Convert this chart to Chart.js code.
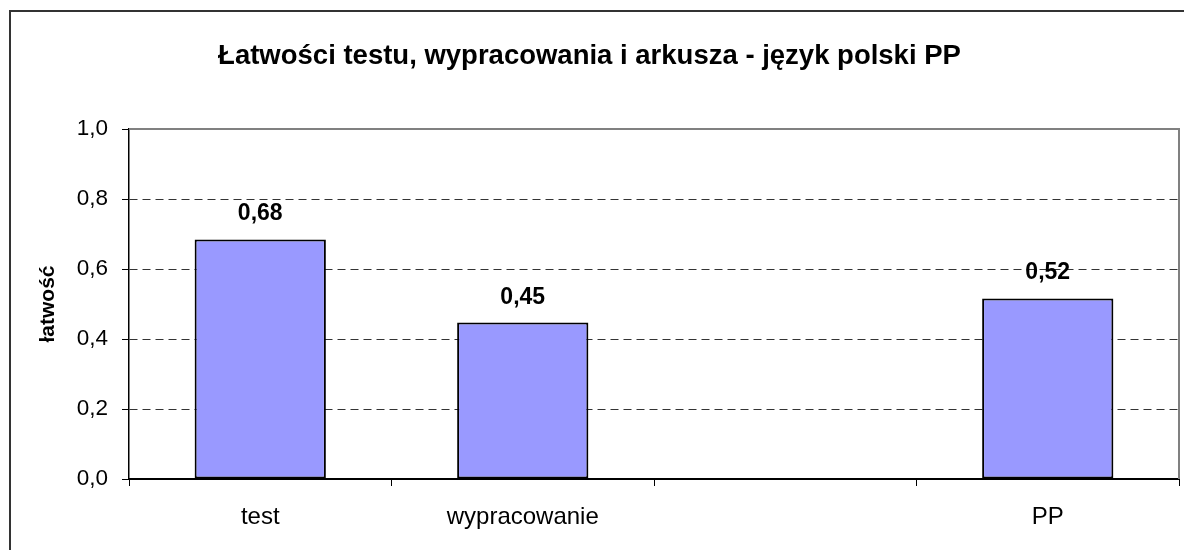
<!DOCTYPE html>
<html>
<head>
<meta charset="utf-8">
<script src="https://cdn.jsdelivr.net/npm/chart.js@4.4.1/dist/chart.umd.min.js"></script>
<style>
  html, body { margin: 0; padding: 0; background: #fff; }
  #wrap { position: relative; width: 1184px; height: 550px; }
</style>
</head>
<body>
<div id="wrap"><canvas id="c"></canvas></div>
<script>
const chartTitle = 'Łatwości testu, wypracowania i arkusza - język polski PP';
const yAxisTitle = 'łatwość';
const categories = ['test', 'wypracowanie', '', 'PP'];
const values = [0.6845, 0.447, null, 0.516];
const yTicks = [0, 0.2, 0.4, 0.6, 0.8, 1.0];

const fmt = (v, d) => v.toFixed(d).replace('.', ',');

Chart.defaults.font.family = "Arial, 'Liberation Sans', sans-serif";
Chart.defaults.color = '#000';

const framePlugin = {
  id: 'frame',
  beforeDraw(chart) {
    const ctx = chart.ctx;
    ctx.save();
    ctx.fillStyle = '#fff';
    ctx.fillRect(0, 0, chart.width, chart.height);
    ctx.strokeStyle = '#333';
    ctx.lineWidth = 2;
    ctx.beginPath();
    ctx.moveTo(10, chart.height + 2);
    ctx.lineTo(10, 11);
    ctx.lineTo(chart.width + 2, 11);
    ctx.stroke();
    ctx.restore();
  },
  afterDraw(chart) {
    const a = chart.chartArea;
    const ctx = chart.ctx;
    ctx.save();
    ctx.strokeStyle = '#808080';
    ctx.lineWidth = 2;
    ctx.beginPath();
    ctx.moveTo(a.left, a.top);
    ctx.lineTo(a.right, a.top);
    ctx.lineTo(a.right, a.bottom);
    ctx.stroke();
    ctx.restore();
  }
};

const labelPlugin = {
  id: 'barLabels',
  afterDatasetsDraw(chart) {
    const ctx = chart.ctx;
    const meta = chart.getDatasetMeta(0);
    ctx.save();
    ctx.font = "bold 23px Arial, 'Liberation Sans', sans-serif";
    ctx.fillStyle = '#000';
    ctx.textAlign = 'center';
    ctx.textBaseline = 'alphabetic';
    meta.data.forEach((bar, i) => {
      const v = values[i];
      if (v === null || v === undefined) return;
      ctx.fillText(fmt(Math.floor(v * 100 + 0.5) / 100, 2), bar.x, bar.y - 19);
    });
    ctx.restore();
  }
};

new Chart(document.getElementById('c'), {
  type: 'bar',
  data: {
    labels: categories,
    datasets: [{
      data: values,
      backgroundColor: '#9999FF',
      borderColor: '#000',
      borderWidth: 2,
      borderSkipped: false,
      categoryPercentage: 1.0,
      barPercentage: 0.5
    }]
  },
  options: {
    responsive: true,
    maintainAspectRatio: false,
    animation: false,
    layout: { padding: { left: 0, right: 5, top: 0, bottom: 0 } },
    plugins: {
      legend: { display: false },
      tooltip: { enabled: false },
      title: {
        display: true,
        text: chartTitle,
        color: '#000',
        font: { size: 27.5, weight: 'bold' },
        padding: { top: 40, bottom: 56 }
      }
    },
    scales: {
      x: {
        afterFit(s) { s.height = 71; },
        grid: {
          offset: true,
          drawOnChartArea: false,
          drawTicks: true,
          tickLength: 7,
          color: '#000',
          tickColor: '#000',
          tickBorderDash: [],
          lineWidth: 1
        },
        border: { display: true, color: '#000', width: 2 },
        ticks: { font: { size: 24 }, color: '#000', padding: 17, maxRotation: 0, autoSkip: false }
      },
      y: {
        min: 0,
        max: 1,
        afterFit(s) { s.width = 129; },
        afterBuildTicks(s) { s.ticks = yTicks.map(v => ({ value: v })); },
        grid: {
          color: (c) => (c.tick && (c.tick.value === 0 || c.tick.value === 1)) ? 'rgba(0,0,0,0)' : '#333',
          tickColor: '#000',
          tickLength: 7,
          tickBorderDash: [],
          lineWidth: 1
        },
        border: { display: true, color: '#000', width: 1.5, dash: [8, 5] },
        ticks: {
          font: { size: 22.5 },
          color: '#000',
          padding: 14,
          callback: (v) => fmt(v, 1)
        },
        title: {
          display: true,
          text: yAxisTitle,
          color: '#000',
          font: { size: 21, weight: 'bold' },
          padding: { top: 36, bottom: 0 }
        }
      }
    }
  },
  plugins: [framePlugin, labelPlugin]
});
</script>
</body>
</html>
